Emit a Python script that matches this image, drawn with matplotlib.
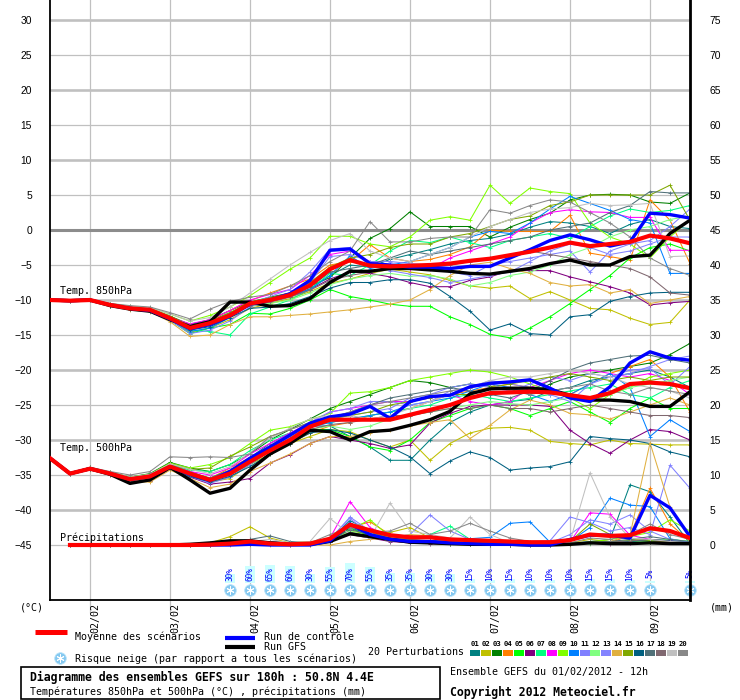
import numpy as np
import matplotlib
matplotlib.use('Agg')
import matplotlib.pyplot as plt

nan = np.nan
MONO = 'DejaVu Sans Mono'

hours = list(range(0, 193, 6))
date_hours = [12, 36, 60, 84, 108, 132, 156, 180]
date_labels = ['02/02', '03/02', '04/02', '05/02', '06/02', '07/02', '08/02', '09/02']

member_names = ['%02d' % k for k in range(1, 21)]
member_colors = ['#008080', '#c0c000', '#008000', '#ff8000', '#00ff00', '#800080', '#00ff80',
                 '#ff00ff', '#80ff00', '#0080ff', '#8080ff', '#80ff80', '#8484ff', '#e0b040',
                 '#80a800', '#006080', '#507078', '#806870', '#c0c0c0', '#888888']

# --- 850 hPa temperature (degC) ---
t850_mean = [-10.0, -10.1, -10.0, -10.7, -11.2, -11.4, -12.6, -14.0, -13.3, -12.2, -10.5,
             -10.0, -9.3, -7.9, -5.6, -4.3, -5.1, -5.2, -5.1, -5.0, -4.8, -4.4,
             -4.1, -3.6, -3.1, -2.5, -1.8, -2.3, -2.0, -1.7, -0.8, -1.2, -1.9]
t850_ctrl = [-10.0, -10.1, -10.0, -10.7, -11.2, -11.5, -12.7, -14.1, -13.5, -12.3, -10.6,
             -10.0, -9.1, -7.2, -2.9, -2.7, -4.8, -5.0, -5.3, -5.3, -5.5, -5.2,
             -5.2, -4.0, -2.8, -1.5, -0.7, -1.4, -2.3, -1.7, 2.4, 2.2, 1.7]
t850_gfs = [-10.0, -10.1, -10.0, -10.8, -11.3, -11.6, -12.8, -13.8, -13.1, -10.3, -10.3,
            -10.9, -10.8, -9.8, -7.5, -5.9, -5.9, -5.5, -5.5, -5.7, -5.9, -6.2,
            -6.3, -5.9, -5.5, -4.8, -4.3, -5.0, -5.0, -3.8, -3.6, -0.5, 1.4]
t850_members = [
    [-10.0, -10.1, -10.0, -10.6, -11.1, -11.3, -12.4, -13.6, -13.0, -11.8, -10.6,
     -10.2, -9.5, -8.4, -6.5, -5.0, -5.3, -4.2, -3.5, -2.8, -2.0, -1.5,
     -1.2, -0.6, 0.4, 1.2, 1.0, 0.5, -0.5, 0.8, 1.5, 0.5, 0.2],
    [-10.0, -10.1, -10.0, -10.8, -11.3, -11.6, -12.9, -14.6, -14.0, -12.8, -11.2,
     -10.5, -9.8, -8.8, -7.6, -7.0, -6.2, -5.6, -6.0, -6.4, -7.2, -8.0,
     -8.3, -8.0, -9.8, -8.8, -10.0, -11.2, -11.4, -12.6, -13.5, -13.2, -10.0],
    [-10.0, -10.1, -10.0, -10.6, -11.0, -11.2, -12.3, -13.5, -12.8, -11.5, -10.3,
     -9.6, -9.0, -8.0, -6.8, -4.0, -1.2, 0.2, 2.6, 0.5, 0.5, 0.5,
     -1.0, 0.4, 1.5, 2.4, 4.3, 5.0, 5.1, 5.0, 4.0, 3.8, 5.3],
    [-10.0, -10.1, -10.0, -10.7, -11.2, -11.3, -12.5, -13.8, -13.0, -11.5, -10.1,
     -9.0, -8.0, -7.0, -5.0, -4.5, -2.1, -4.0, -4.5, -4.2, -3.5, -2.4,
     0.0, -0.2, -0.2, -0.2, 2.1, -3.3, -3.8, -4.3, 4.3, 1.4, -4.8],
    [-10.0, -10.1, -10.0, -10.8, -11.3, -11.6, -12.9, -14.8, -14.0, -13.5, -11.9,
     -12.0, -11.2, -10.0, -8.5, -9.5, -10.0, -10.6, -10.9, -10.9, -12.4, -13.5,
     -14.9, -15.4, -14.0, -12.4, -10.5, -8.5, -6.5, -4.0, -2.5, -2.0, -3.0],
    [-10.0, -10.1, -10.0, -10.7, -11.2, -11.5, -12.7, -14.1, -13.4, -12.0, -10.8,
     -10.2, -9.5, -8.5, -7.0, -6.0, -6.2, -6.7, -7.5, -8.1, -8.1, -7.2,
     -6.7, -5.8, -5.8, -5.8, -6.7, -7.4, -8.1, -9.0, -10.7, -10.4, -10.2],
    [-10.0, -10.1, -10.0, -10.7, -11.1, -11.3, -12.5, -14.3, -14.5, -15.0, -12.0,
     -11.0, -10.0, -8.5, -6.2, -6.5, -5.0, -3.0, -1.5, -1.8, -1.0, -1.8,
     -2.5, -1.5, -1.0, -0.5, -1.2, 0.5, 2.0, 3.0, 2.5, 2.8, 3.5],
    [-10.0, -10.1, -10.0, -10.7, -11.2, -11.4, -12.5, -13.4, -12.8, -11.5, -10.0,
     -9.2, -8.5, -6.5, -3.5, -3.0, -4.5, -5.0, -5.5, -5.5, -4.0, -3.0,
     -2.0, -1.0, 1.0, 2.5, 2.9, 2.6, 2.5, 1.8, 1.8, -2.9, -2.9],
    [-10.0, -10.1, -10.0, -10.5, -10.9, -11.1, -12.0, -13.0, -12.2, -11.0, -9.4,
     -7.5, -5.6, -4.0, -0.9, -0.9, -2.0, -2.4, -1.0, 1.4, 1.9, 1.4,
     6.4, 3.8, 6.0, 5.5, 5.2, 1.0, -1.0, -2.0, -4.0, -1.0, 1.5],
    [-10.0, -10.1, -10.0, -10.7, -11.2, -11.5, -12.8, -14.5, -14.0, -12.5, -10.5,
     -9.8, -9.4, -8.5, -6.5, -3.7, -5.5, -5.0, -4.5, -3.5, -2.5, -1.0,
     -0.2, -0.5, 1.0, 3.0, 4.8, 3.8, 2.8, 1.5, 1.0, -6.2, -6.2],
    [-10.0, -10.1, -10.0, -10.8, -11.3, -11.6, -12.9, -14.8, -14.3, -13.0, -11.0,
     -10.2, -9.2, -7.5, -3.8, -3.5, -4.5, -4.5, -4.8, -5.0, -6.0, -6.5,
     -5.0, -4.5, -4.0, -3.5, -3.0, -6.0, -3.0, -2.0, -1.5, 0.5, 3.0],
    [-10.0, -10.1, -10.0, -10.7, -11.1, -11.4, -12.6, -14.0, -13.3, -12.0, -10.8,
     -10.5, -10.0, -9.0, -7.8, -7.0, -6.5, -6.2, -6.6, -6.5, -7.0, -8.0,
     -7.5, -6.5, -6.0, -5.0, -3.5, -2.5, -1.0, 0.0, 0.5, 1.5, 2.0],
    [-10.0, -10.1, -10.0, -10.6, -11.0, -11.3, -12.4, -13.8, -13.5, -12.0, -10.5,
     -9.5, -8.5, -6.0, -2.7, -2.5, -5.0, -5.8, -6.3, -6.8, -7.5, -7.0,
     -6.5, -6.0, -4.5, -3.0, -2.0, -2.5, -3.5, -3.0, -2.0, -1.0, -1.0],
    [-10.0, -10.1, -10.0, -10.8, -11.4, -11.7, -13.1, -15.2, -15.0, -13.5, -12.4,
     -12.4, -12.2, -12.0, -11.7, -11.4, -11.0, -10.6, -10.0, -8.5, -6.5, -5.0,
     -4.6, -5.5, -6.2, -7.5, -8.0, -7.8, -9.0, -8.5, -10.5, -10.0, -9.5],
    [-10.0, -10.1, -10.0, -10.6, -11.0, -11.2, -12.3, -13.7, -13.2, -11.8, -10.3,
     -9.7, -9.0, -7.5, -5.3, -4.0, -3.5, -2.5, -2.0, -2.0, -1.0, -0.5,
     0.5, 1.5, 2.0, 3.5, 4.0, 5.0, 5.0, 5.0, 5.0, 6.4, 1.4],
    [-10.0, -10.1, -10.0, -10.8, -11.3, -11.6, -12.8, -14.3, -13.8, -12.5, -11.2,
     -11.0, -10.5, -9.5, -8.3, -7.5, -7.5, -7.1, -7.1, -7.6, -9.5, -11.6,
     -14.3, -13.4, -14.8, -15.0, -12.4, -12.1, -10.2, -9.5, -9.0, -8.9, -8.9],
    [-10.0, -10.1, -10.0, -10.7, -11.2, -11.4, -12.6, -13.9, -13.2, -12.0, -10.6,
     -10.0, -9.4, -8.2, -6.0, -5.5, -5.0, -4.0, -3.0, -3.5, -3.0, -2.5,
     -2.0, -1.5, -1.0, 0.0, 0.5, 1.0, 2.5, 3.5, 5.5, 5.3, 5.3],
    [-10.0, -10.1, -10.0, -10.7, -11.2, -11.5, -12.7, -14.0, -13.2, -12.1, -10.8,
     -10.3, -9.6, -8.6, -7.2, -6.5, -6.0, -5.5, -5.2, -5.0, -5.0, -4.5,
     -4.0, -3.5, -3.0, -3.5, -4.0, -4.5, -5.0, -5.5, -6.7, -9.0, -9.3],
    [-10.0, -10.1, -10.0, -10.5, -10.9, -11.1, -12.0, -13.0, -12.5, -11.0, -9.0,
     -7.0, -5.0, -3.2, -1.5, -0.5, -3.0, -4.0, -4.5, -3.5, -2.5, -1.0,
     0.5, 1.5, 2.5, 3.0, 3.2, 3.8, 3.5, 3.6, 3.8, -3.8, -3.7],
    [-10.0, -10.1, -10.0, -10.5, -10.8, -11.0, -11.8, -12.7, -11.3, -10.2, -9.6,
     -9.2, -8.0, -6.5, -4.5, -3.0, 1.2, -1.7, -1.7, -1.2, -1.0, -1.0,
     2.9, 2.4, 3.5, 4.3, 4.0, 2.5, 1.0, -1.0, -4.0, -5.5, -6.5],
]

# --- 500 hPa temperature (degC) ---
t500_mean = [-32.6, -34.8, -34.1, -34.8, -35.6, -35.2, -33.8, -34.8, -35.7, -34.8, -33.1,
             -31.5, -30.0, -28.1, -27.1, -27.1, -27.1, -27.1, -26.4, -25.7, -25.0, -24.0,
             -23.3, -23.2, -23.1, -23.2, -23.6, -24.0, -23.3, -22.0, -21.8, -22.0, -22.6]
t500_ctrl = [-32.6, -34.8, -34.1, -34.8, -35.6, -35.2, -33.8, -34.9, -35.8, -34.5, -32.6,
             -31.0, -29.3, -27.6, -26.7, -26.3, -25.2, -26.9, -24.5, -23.8, -23.6, -22.4,
             -21.9, -21.7, -21.4, -22.6, -24.0, -24.5, -22.4, -19.0, -17.4, -18.3, -18.6]
t500_gfs = [-32.6, -34.8, -34.1, -34.9, -36.2, -35.7, -33.9, -35.7, -37.6, -36.9, -34.3,
            -32.0, -30.5, -28.6, -28.8, -30.0, -28.8, -28.6, -27.9, -27.1, -25.9, -23.4,
            -22.7, -22.6, -22.6, -22.8, -23.6, -24.3, -24.3, -24.5, -25.2, -25.2, -23.1]
t500_members = [
    [-32.6, -34.8, -34.0, -34.7, -35.5, -35.0, -33.5, -34.5, -35.5, -34.5, -32.5,
     -30.5, -29.0, -28.0, -28.0, -29.5, -31.0, -32.9, -32.9, -30.0, -27.5, -26.0,
     -25.0, -24.5, -24.2, -23.0, -22.5, -21.5, -21.0, -20.5, -20.0, -21.0, -22.5],
    [-32.6, -34.8, -34.2, -34.9, -35.9, -35.8, -34.0, -35.0, -36.0, -35.5, -33.5,
     -32.0, -30.5, -29.5, -28.5, -28.8, -30.0, -31.0, -30.0, -32.9, -30.5, -29.0,
     -28.3, -28.2, -28.6, -30.2, -30.5, -30.7, -30.0, -30.5, -30.6, -30.7, -30.7],
    [-32.6, -34.8, -33.9, -34.6, -35.3, -34.8, -33.2, -34.0, -34.5, -33.5, -32.0,
     -30.0, -28.5, -27.0, -25.5, -24.5, -23.5, -22.5, -21.5, -21.8, -22.5, -22.0,
     -22.3, -22.8, -23.5, -22.0, -21.0, -20.5, -20.0, -19.5, -19.0, -17.8, -16.2],
    [-32.6, -34.8, -34.1, -34.8, -35.5, -35.0, -33.5, -34.6, -35.5, -34.0, -32.5,
     -31.5, -30.5, -29.0, -28.0, -27.5, -26.5, -26.0, -25.5, -24.5, -23.5, -23.0,
     -22.5, -22.0, -22.5, -23.0, -23.5, -22.0, -20.5, -19.5, -18.5, -21.0, -26.0],
    [-32.6, -34.8, -34.1, -34.8, -35.6, -35.3, -33.9, -35.0, -35.8, -35.0, -33.5,
     -31.5, -29.8, -28.5, -28.5, -29.5, -31.0, -31.5, -30.0, -27.5, -26.5, -25.5,
     -25.0, -25.5, -26.5, -25.5, -24.5, -26.0, -27.5, -25.5, -24.0, -25.5, -25.5],
    [-32.6, -34.8, -34.2, -35.0, -35.9, -35.8, -34.2, -35.3, -36.3, -36.0, -35.5,
     -33.3, -32.1, -30.5, -29.5, -30.0, -30.5, -31.2, -30.7, -27.6, -26.2, -25.2,
     -25.0, -25.0, -25.0, -25.2, -28.6, -30.5, -31.9, -30.0, -28.5, -28.8, -30.0],
    [-32.6, -34.8, -34.0, -34.7, -35.5, -35.0, -33.5, -34.3, -34.5, -33.5, -31.5,
     -30.0, -29.0, -28.0, -27.5, -27.0, -26.5, -26.0, -25.5, -25.0, -24.0, -23.5,
     -24.0, -24.5, -24.0, -23.5, -23.0, -22.5, -22.0, -23.5, -24.0, -22.5, -21.5],
    [-32.6, -34.8, -34.1, -34.8, -35.6, -35.1, -33.7, -34.5, -35.0, -34.0, -32.0,
     -30.5, -29.0, -27.5, -26.0, -25.5, -25.0, -24.5, -24.5, -24.0, -23.5, -24.5,
     -25.0, -24.5, -22.5, -21.5, -20.5, -20.0, -20.5, -21.0, -20.5, -21.5, -23.5],
    [-32.6, -34.8, -34.0, -34.6, -35.3, -34.9, -33.3, -34.0, -33.5, -32.5, -30.5,
     -28.6, -28.1, -27.1, -26.2, -23.3, -23.1, -22.5, -21.5, -21.0, -20.5, -20.0,
     -20.3, -21.0, -22.0, -23.0, -24.0, -25.5, -23.5, -22.5, -21.0, -20.5, -20.0],
    [-32.6, -34.8, -34.1, -34.8, -35.5, -35.1, -33.6, -34.6, -35.6, -34.6, -32.8,
     -31.2, -29.6, -28.2, -27.5, -27.0, -26.5, -26.0, -25.0, -24.5, -24.0, -23.0,
     -22.0, -22.5, -23.5, -24.5, -23.5, -22.0, -20.5, -22.5, -29.5, -27.1, -28.8],
    [-32.6, -34.8, -34.2, -34.9, -35.7, -35.4, -34.0, -35.2, -36.2, -35.3, -33.5,
     -31.5, -29.5, -28.0, -27.0, -26.5, -26.0, -25.5, -24.0, -23.5, -22.5, -22.0,
     -22.5, -23.0, -22.0, -21.0, -21.5, -20.5, -21.0, -20.0, -19.8, -22.1, -19.5],
    [-32.6, -34.8, -34.1, -34.8, -35.6, -35.2, -33.8, -34.8, -35.5, -34.5, -33.0,
     -31.0, -29.5, -28.5, -28.0, -28.5, -28.0, -27.0, -26.5, -26.0, -25.5, -25.0,
     -24.5, -24.8, -25.0, -24.5, -24.0, -24.5, -23.5, -22.5, -22.0, -21.5, -21.0],
    [-32.6, -34.8, -34.1, -34.8, -35.6, -35.2, -33.9, -35.0, -36.0, -35.0, -33.2,
     -31.3, -29.5, -27.5, -26.0, -25.5, -24.5, -24.5, -25.0, -24.5, -23.0, -22.5,
     -21.5, -22.0, -22.5, -23.5, -24.5, -22.0, -21.0, -20.5, -19.5, -18.5, -18.0],
    [-32.6, -34.8, -34.3, -35.0, -36.0, -36.0, -34.3, -35.5, -36.8, -36.3, -34.5,
     -33.3, -32.0, -30.5, -29.5, -29.5, -29.0, -28.5, -28.0, -27.5, -27.1, -29.8,
     -27.9, -25.7, -24.3, -25.0, -26.2, -26.4, -27.0, -26.0, -25.0, -24.0, -25.0],
    [-32.6, -34.8, -34.0, -34.7, -35.4, -35.0, -33.4, -34.2, -34.0, -32.3, -31.0,
     -29.5, -28.5, -27.5, -27.0, -26.5, -26.0, -25.0, -24.5, -24.0, -23.5, -23.5,
     -22.5, -22.0, -21.5, -21.0, -20.5, -21.0, -21.5, -21.0, -21.5, -21.0, -21.0],
    [-32.6, -34.8, -34.2, -34.9, -35.8, -35.5, -34.0, -35.2, -36.0, -35.2, -33.8,
     -32.0, -30.5, -29.0, -28.5, -29.0, -30.0, -31.0, -32.4, -34.8, -33.0, -31.7,
     -32.5, -34.3, -34.0, -33.8, -33.1, -29.5, -29.8, -30.0, -30.5, -31.7, -32.4],
    [-32.6, -34.8, -34.1, -34.8, -35.6, -35.2, -33.8, -34.8, -35.4, -34.3, -32.5,
     -30.8, -29.2, -27.8, -26.8, -26.0, -25.0, -24.0, -23.5, -23.0, -22.5, -23.0,
     -23.5, -24.0, -23.0, -21.5, -20.0, -19.0, -18.5, -18.0, -17.9, -18.5, -19.0],
    [-32.6, -34.8, -34.1, -34.9, -35.7, -35.3, -33.9, -35.0, -35.8, -34.8, -33.0,
     -31.3, -29.8, -28.5, -27.8, -27.5, -27.0, -26.5, -26.5, -26.0, -25.5, -25.5,
     -25.0, -25.5, -25.5, -26.0, -25.5, -25.0, -25.5, -26.0, -26.5, -26.5, -26.8],
    [-32.6, -34.8, -34.0, -34.6, -35.3, -34.9, -33.4, -34.2, -34.8, -33.8, -31.8,
     -29.8, -28.3, -27.0, -26.5, -26.5, -27.0, -26.5, -25.5, -24.5, -23.5, -22.5,
     -21.5, -21.0, -21.0, -20.5, -20.0, -20.5, -21.0, -22.0, -22.5, -23.0, -24.0],
    [-32.6, -34.8, -33.9, -34.5, -35.0, -34.5, -32.4, -32.5, -32.4, -32.5, -32.0,
     -29.5, -28.5, -27.5, -27.0, -26.0, -25.0, -24.5, -24.0, -23.5, -23.0, -22.5,
     -22.0, -23.0, -23.5, -23.0, -22.5, -22.0, -23.0, -23.5, -22.5, -23.0, -23.5],
]

# --- precipitation (mm, right axis) ---
rr_mean = [nan, 0, 0, 0, 0, 0, 0, 0, 0.05, 0.2, 0.5,
           0.2, 0.1, 0.2, 0.9, 2.9, 2.1, 1.4, 1.1, 1.1, 0.8, 0.7,
           0.6, 0.5, 0.4, 0.4, 0.7, 1.5, 1.3, 1.4, 2.4, 2.0, 1.0]
rr_ctrl = [nan, 0, 0, 0, 0, 0, 0, 0, 0, 0, 0.1,
           0, 0, 0, 0.6, 3.0, 1.5, 0.8, 0.5, 0.5, 0.3, 0.2,
           0.1, 0.1, 0, 0, 0.8, 1.4, 1.4, 1.0, 7.1, 5.3, 1.2]
rr_gfs = [nan, 0, 0, 0, 0, 0, 0, 0.1, 0.3, 0.6, 0.6,
          0.3, 0.1, 0.1, 0.5, 1.6, 1.2, 0.8, 0.4, 0.3, 0.2, 0.1,
          0.1, 0.1, 0, 0, 0.1, 0.3, 0.2, 0.2, 0.3, 0.2, 0.2]
rr_members = [
    [nan, 0, 0, 0, 0, 0, 0, 0, 0, 0.3, 0.5, 0.3, 0, 0.1, 0.8, 3.5, 2.0, 1.0, 0.5, 0.3, 0.2, 0.1,
     0, 0, 0, 0, 0.2, 0.5, 0.8, 8.6, 7.6, 4.0, 0.2],
    [nan, 0, 0, 0, 0, 0, 0, 0, 0.3, 1.2, 2.6, 1.0, 0.3, 0.5, 0.6, 2.0, 1.5, 1.8, 2.5, 1.0, 0.5, 0.2,
     0, 0, 0, 0, 0.3, 0.8, 0.5, 0.6, 0.8, 0.4, 0.2],
    [nan, 0, 0, 0, 0, 0, 0, 0, 0.2, 0.6, 0.5, 0.4, 0.2, 0.3, 0.5, 1.8, 1.2, 0.8, 0.6, 0.4, 0.3, 0.2,
     0.1, 0, 0, 0, 0.2, 0.3, 0.4, 0.5, 0.4, 0.8, 0.3],
    [nan, 0, 0, 0, 0, 0, 0, 0, 0, 0.1, 0.2, 0.1, 0, 0, 0.5, 2.5, 3.3, 1.5, 1.2, 1.0, 0.5, 0.3,
     0.1, 0, 0, 0, 0.1, 0.4, 0.3, 1.4, 8.1, 3.0, 0.5],
    [nan, 0, 0, 0, 0, 0, 0, 0, 0, 0.2, 0.3, 0.2, 0.1, 0.2, 0.6, 2.4, 1.3, 0.6, 0.4, 0.3, 0.2, 0.1,
     0, 0, 0, 0, 0.2, 0.3, 0.4, 0.6, 0.5, 0.4, 0.2],
    [nan, 0, 0, 0, 0, 0, 0, 0, 0, 0.1, 0.2, 0.1, 0, 0.1, 0.5, 1.5, 1.0, 0.5, 0.3, 0.2, 0.1, 0.1,
     0, 0, 0, 0, 0.1, 0.3, 0.2, 0.3, 0.4, 0.6, 0.3],
    [nan, 0, 0, 0, 0, 0, 0, 0, 0, 0.1, 0.1, 0.1, 0, 0.1, 0.8, 3.0, 2.0, 1.0, 0.8, 1.5, 2.7, 0.8,
     0.3, 0.1, 0, 0, 0.1, 0.3, 0.4, 0.5, 0.6, 0.8, 0.5],
    [nan, 0, 0, 0, 0, 0, 0, 0, 0, 0.1, 0.2, 0.1, 0.1, 0.2, 1.0, 6.2, 2.5, 1.2, 0.8, 0.5, 0.4, 0.3,
     0.2, 0.5, 0.3, 0.1, 0.4, 4.6, 4.4, 1.4, 0.8, 0.6, 0.4],
    [nan, 0, 0, 0, 0, 0, 0, 0, 0, 0.2, 0.5, 0.3, 0.1, 0.3, 0.8, 2.2, 3.6, 1.2, 0.8, 0.5, 0.3, 0.2,
     0.1, 0, 0, 0, 0.2, 0.4, 0.8, 1.2, 1.8, 3.6, 2.0],
    [nan, 0, 0, 0, 0, 0, 0, 0, 0, 0.1, 0.2, 0.1, 0, 0.1, 0.6, 3.2, 1.5, 0.8, 0.5, 0.6, 0.8, 0.9,
     1.1, 3.1, 3.3, 0.4, 0.5, 2.5, 6.7, 5.7, 5.5, 0.9, 0.3],
    [nan, 0, 0, 0, 0, 0, 0, 0, 0, 0.1, 0.2, 0.1, 0, 0.2, 0.8, 4.0, 2.0, 1.0, 1.5, 4.3, 2.0, 0.8,
     0.3, 0.2, 0.5, 0.6, 4.0, 3.2, 2.0, 2.5, 1.5, 11.4, 8.1],
    [nan, 0, 0, 0, 0, 0, 0, 0, 0, 0.2, 0.3, 0.2, 0.1, 0.2, 0.6, 2.0, 1.2, 0.6, 0.4, 0.3, 0.2, 0.1,
     0, 0, 0, 0, 0.1, 0.2, 0.3, 0.4, 0.6, 0.8, 0.5],
    [nan, 0, 0, 0, 0, 0, 0, 0, 0, 0.1, 0.2, 0.1, 0, 0.2, 0.9, 3.8, 1.5, 0.8, 0.5, 0.4, 0.3, 0.2,
     0.1, 0, 0, 0.3, 1.5, 3.6, 3.0, 4.3, 2.0, 0.8, 0.4],
    [nan, 0, 0, 0, 0, 0, 0, 0, 0, 0, 0, 0, 0, 0, 0, 0.5, 0.8, 1.0, 1.5, 1.3, 0.8, 0.5,
     0.2, 0, 0, 0, 0, 0.3, 0.5, 1.4, 14.6, 5.4, 1.0],
    [nan, 0, 0, 0, 0, 0, 0, 0, 0, 0.2, 0.4, 0.3, 0.1, 0.2, 0.7, 2.8, 1.8, 1.0, 0.6, 0.4, 0.3, 0.2,
     0.1, 0, 0, 0, 0.5, 3.0, 1.5, 0.8, 0.6, 0.5, 0.3],
    [nan, 0, 0, 0, 0, 0, 0, 0, 0, 0.2, 0.4, 0.5, 0.3, 0.2, 0.5, 2.5, 1.5, 0.8, 0.5, 0.4, 0.3, 0.2,
     0.1, 0, 0, 0, 0.1, 0.3, 0.4, 0.5, 0.8, 0.6, 0.3],
    [nan, 0, 0, 0, 0, 0, 0, 0, 0, 0.3, 0.8, 1.3, 0.5, 0.3, 0.6, 2.2, 1.5, 1.0, 0.8, 0.6, 0.5, 0.3,
     0.2, 0.1, 0, 0, 0.2, 0.4, 0.5, 0.8, 1.2, 0.8, 0.5],
    [nan, 0, 0, 0, 0, 0, 0, 0, 0, 0.1, 0.2, 0.2, 0.1, 0.2, 0.4, 1.8, 1.2, 0.6, 0.4, 0.3, 0.2, 0.1,
     0, 0, 0, 0, 0.1, 0.3, 0.4, 0.6, 0.8, 0.5, 0.3],
    [nan, 0, 0, 0, 0, 0, 0, 0, 0, 0.2, 0.5, 0.8, 0.3, 0.5, 3.8, 1.5, 1.0, 6.0, 2.0, 1.5, 1.0, 4.0,
     1.5, 0.3, 0, 0, 0.5, 10.3, 4.0, 1.0, 0.8, 0.5, 0.3],
    [nan, 0, 0, 0, 0, 0, 0, 0, 0, 0.3, 0.6, 0.4, 0.2, 0.3, 1.5, 2.5, 1.8, 2.0, 3.1, 1.5, 2.0, 3.1,
     2.0, 1.0, 0.5, 0.2, 0.3, 1.0, 0.8, 1.5, 3.0, 1.5, 0.8],
]

# snow risk (% of scenarios)
snow_hours = [54, 60, 66, 72, 78, 84, 90, 96, 102, 108, 114, 120, 126, 132, 138, 144,
              150, 156, 162, 168, 174, 180, 192]
snow_pct = [30, 60, 65, 60, 30, 55, 70, 55, 35, 35, 30, 30, 15, 10, 15, 10,
            10, 10, 15, 15, 10, 5, 5]

# ------------------------------------------------------------------
fig = plt.figure(figsize=(7.4, 7.0), dpi=100)
ax = fig.add_axes([50 / 740, 100 / 700, 640 / 740, 600 / 700])
ax.set_xlim(0, 192)
ax.set_ylim(-370 / 7, 230 / 7)

for v in range(-45, 31, 5):
    if v == 0:
        ax.axhline(v, color='#8c8c8c', lw=2.2, zorder=1)
    else:
        ax.axhline(v, color='#c0c0c0', lw=1.9 if v % 10 == 0 else 0.9, zorder=0)
for h in date_hours:
    ax.axvline(h, color='#c0c0c0', lw=0.9, zorder=0)

for serie, col in zip(t850_members, member_colors):
    ax.plot(hours, serie, color=col, lw=0.75, marker='+', ms=2.5, mew=0.6, zorder=2)
for serie, col in zip(t500_members, member_colors):
    ax.plot(hours, serie, color=col, lw=0.75, marker='+', ms=2.5, mew=0.6, zorder=2)
for t_gfs, t_ctrl, t_mean in [(t850_gfs, t850_ctrl, t850_mean), (t500_gfs, t500_ctrl, t500_mean)]:
    ax.plot(hours, t_gfs, color='black', lw=2.4, zorder=3)
    ax.plot(hours, t_ctrl, color='#0000ff', lw=2.4, zorder=4)
    ax.plot(hours, t_mean, color='#ff0000', lw=3.0, zorder=5)

ax.text(3, -8.7, 'Temp. 850hPa', family=MONO, fontsize=7.2, va='center', zorder=6)
ax.text(3, -31.1, 'Temp. 500hPa', family=MONO, fontsize=7.2, va='center', zorder=6)
ax.text(3, -43.9, 'Précipitations', family=MONO, fontsize=7.2, va='center', zorder=6)

# snow risk markers
snow_h = np.array(snow_hours, dtype=float)
snow_p = np.array(snow_pct, dtype=float)
ax.bar(snow_h, snow_p * 0.04, bottom=-50.4, width=3.0, color='#ccffff', zorder=2, clip_on=False)
for h, p in zip(snow_hours, snow_pct):
    ax.text(h, -49.1, '%d%%' % p, rotation=90, ha='center', va='center',
            family=MONO, fontsize=5.6, color='#0000ff', zorder=6, clip_on=False)
ax.scatter(snow_h, np.full(len(snow_h), -51.4), s=70, color='#84c8f0',
           edgecolors='#b8e4fa', linewidths=0.6, zorder=6, clip_on=False)
ax.scatter(snow_h, np.full(len(snow_h), -51.4), s=28, marker=(6, 2, 0),
           color='white', linewidths=0.7, zorder=7, clip_on=False)

ax.set_yticks(range(-45, 31, 5))
ax.tick_params(axis='y', length=0, pad=13, labelsize=7.4)
for lab in ax.get_yticklabels():
    lab.set_family('Liberation Sans')
ax.set_xticks(date_hours)
ax.set_xticklabels(date_labels, rotation=90, ha='left', va='top', family=MONO, fontsize=7.2)
ax.tick_params(axis='x', length=9, color='#c0c0c0', width=0.9, pad=-7)
for side in ['left', 'bottom']:
    ax.spines[side].set_linewidth(1.3)
ax.spines['top'].set_visible(False)
ax.spines['right'].set_visible(False)

# precipitation on the right (mm) axis
ax2 = ax.twinx()
ax2.set_ylim(-370 / 7 + 45, 230 / 7 + 45)
for serie, col in zip(rr_members, member_colors):
    ax2.plot(hours, serie, color=col, lw=0.75, marker='+', ms=2.5, mew=0.6, zorder=2)
ax2.plot(hours, rr_gfs, color='black', lw=2.4, zorder=3)
ax2.plot(hours, rr_ctrl, color='#0000ff', lw=2.4, zorder=4)
ax2.plot(hours, rr_mean, color='#ff0000', lw=3.0, zorder=5)
ax2.set_yticks(range(0, 76, 5))
ax2.tick_params(axis='y', length=0, pad=14, labelsize=7.4)
for lab in ax2.get_yticklabels():
    lab.set_family('Liberation Sans')
ax2.spines['right'].set_linewidth(2.0)
ax2.spines['top'].set_visible(False)
ax2.spines['left'].set_visible(False)
ax2.spines['bottom'].set_visible(False)

# ------------------------------------------------------------------
# legend / captions, laid out in pixel coordinates
lg = fig.add_axes([0, 0, 1, 1], zorder=-1)
lg.set_xlim(0, 740)
lg.set_ylim(700, 0)
lg.axis('off')

lg.text(20, 607, '(°C)', family=MONO, fontsize=7.2, va='center')
lg.text(710, 607, '(mm)', family=MONO, fontsize=7.2, va='center')

lg.plot([35, 67], [632, 632], color='#ff0000', lw=3.6, solid_capstyle='butt')
lg.text(75, 637, 'Moyenne des scénarios', family=MONO, fontsize=7.2, va='center')
lg.plot([225, 255], [637.5, 637.5], color='#0000ff', lw=3.0, solid_capstyle='butt')
lg.text(264, 637, 'Run de contrôle', family=MONO, fontsize=7.2, va='center')
lg.plot([225, 255], [647, 647], color='black', lw=3.0, solid_capstyle='butt')
lg.text(264, 647, 'Run GFS', family=MONO, fontsize=7.2, va='center')
lg.scatter([60], [657.5], s=70, color='#84c8f0', edgecolors='#b8e4fa', linewidths=0.6)
lg.scatter([60], [657.5], s=28, marker=(6, 2, 0), color='white', linewidths=0.7)
lg.text(75, 659, 'Risque neige (par rapport a tous les scénarios)', family=MONO,
        fontsize=7.2, va='center')

lg.text(368, 652, '20 Perturbations', family=MONO, fontsize=7.2, va='center')
for k, (name, col) in enumerate(zip(member_names, member_colors)):
    x0 = 470 + k * 10.95
    lg.add_patch(plt.Rectangle((x0, 650), 10, 6, color=col, lw=0))
    lg.text(x0 + 5, 644, name, family=MONO, fontsize=5.2, fontweight='bold',
            ha='center', va='center')

lg.add_patch(plt.Rectangle((21, 667), 419, 32, fill=False, edgecolor='black', lw=1.2))
lg.text(30, 677, 'Diagramme des ensembles GEFS sur 180h : 50.8N 4.4E', family=MONO,
        fontsize=8.3, fontweight='bold', va='center')
lg.text(30, 692, 'Températures 850hPa et 500hPa (°C) , précipitations (mm)', family=MONO,
        fontsize=7.2, va='center')
lg.text(450, 672, 'Ensemble GEFS du 01/02/2012 - 12h', family=MONO, fontsize=7.2, va='center')
lg.text(450, 692, 'Copyright 2012 Meteociel.fr', family=MONO, fontsize=8.3,
        fontweight='bold', va='center')

fig.savefig('out.png', dpi=100)
